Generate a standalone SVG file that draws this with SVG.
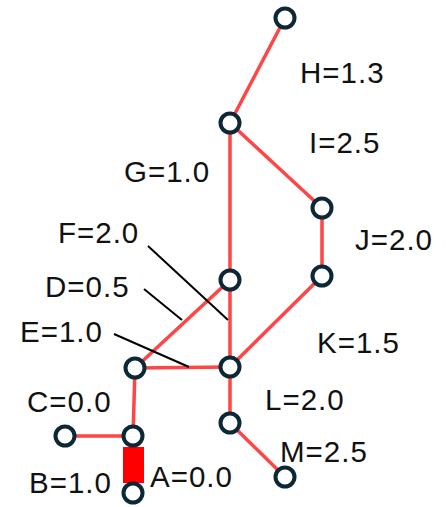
<svg xmlns="http://www.w3.org/2000/svg" width="446" height="507" viewBox="0 0 446 507">
<style>
.e{stroke:#ff4545;stroke-width:3.5;fill:none;stroke-linecap:round}
.l{stroke:#000;stroke-width:2;fill:none}
.n{fill:#fff;stroke:#0c2836;stroke-width:4}
text{font-family:"Liberation Sans",Arial,sans-serif;font-size:29.5px;letter-spacing:1px;fill:#111}
</style>
<rect width="446" height="507" fill="#fff"/>
<g id="connectors">
<line class="e" x1="285" y1="18" x2="230" y2="123"/>
<line class="e" x1="230" y1="123" x2="322" y2="208"/>
<line class="e" x1="230" y1="123" x2="230" y2="367"/>
<line class="e" x1="322" y1="208" x2="322" y2="276"/>
<line class="e" x1="322" y1="276" x2="230" y2="367"/>
<line class="e" x1="230" y1="280" x2="135" y2="368"/>
<line class="e" x1="135" y1="368" x2="230" y2="367"/>
<line class="e" x1="230" y1="367" x2="230" y2="423"/>
<line class="e" x1="230" y1="423" x2="285" y2="477"/>
<line class="e" x1="135" y1="368" x2="133" y2="436"/>
<line class="e" x1="65" y1="436" x2="133" y2="436"/>
<rect x="123" y="447" width="21" height="36" fill="#ff0000"/>
<line class="l" x1="148" y1="246" x2="228" y2="320"/>
<line class="l" x1="144" y1="289" x2="182" y2="320"/>
<line class="l" x1="114" y1="334" x2="189" y2="367"/>
</g>
<g id="n-top"><circle class="n" cx="285" cy="18" r="9.5"/></g>
<g id="n-g"><circle class="n" cx="230" cy="123" r="9.5"/></g>
<g id="n-j1"><circle class="n" cx="322" cy="208" r="9.5"/></g>
<g id="n-j2"><circle class="n" cx="322" cy="276" r="9.5"/></g>
<g id="n-f"><circle class="n" cx="230" cy="280" r="9.5"/></g>
<g id="n-center"><circle class="n" cx="230" cy="367" r="9.5"/></g>
<g id="n-l"><circle class="n" cx="230" cy="423" r="9.5"/></g>
<g id="n-m"><circle class="n" cx="285" cy="477" r="9.5"/></g>
<g id="n-e"><circle class="n" cx="135" cy="368" r="9.5"/></g>
<g id="n-c2"><circle class="n" cx="133" cy="436" r="9.5"/></g>
<g id="n-c1"><circle class="n" cx="65" cy="436" r="9.5"/></g>
<g id="n-b"><circle class="n" cx="133" cy="493" r="9.5"/></g>
<g id="labels">
<text x="300" y="83">H=1.3</text>
<text x="309" y="153">I=2.5</text>
<text x="124" y="182">G=1.0</text>
<text x="355" y="250">J=2.0</text>
<text x="58" y="243">F=2.0</text>
<text x="45" y="297">D=0.5</text>
<text x="20" y="342">E=1.0</text>
<text x="317" y="353">K=1.5</text>
<text x="265" y="410">L=2.0</text>
<text x="27" y="412">C=0.0</text>
<text x="280" y="462">M=2.5</text>
<text x="150" y="487">A=0.0</text>
<text x="29" y="493">B=1.0</text>
</g>
</svg>
